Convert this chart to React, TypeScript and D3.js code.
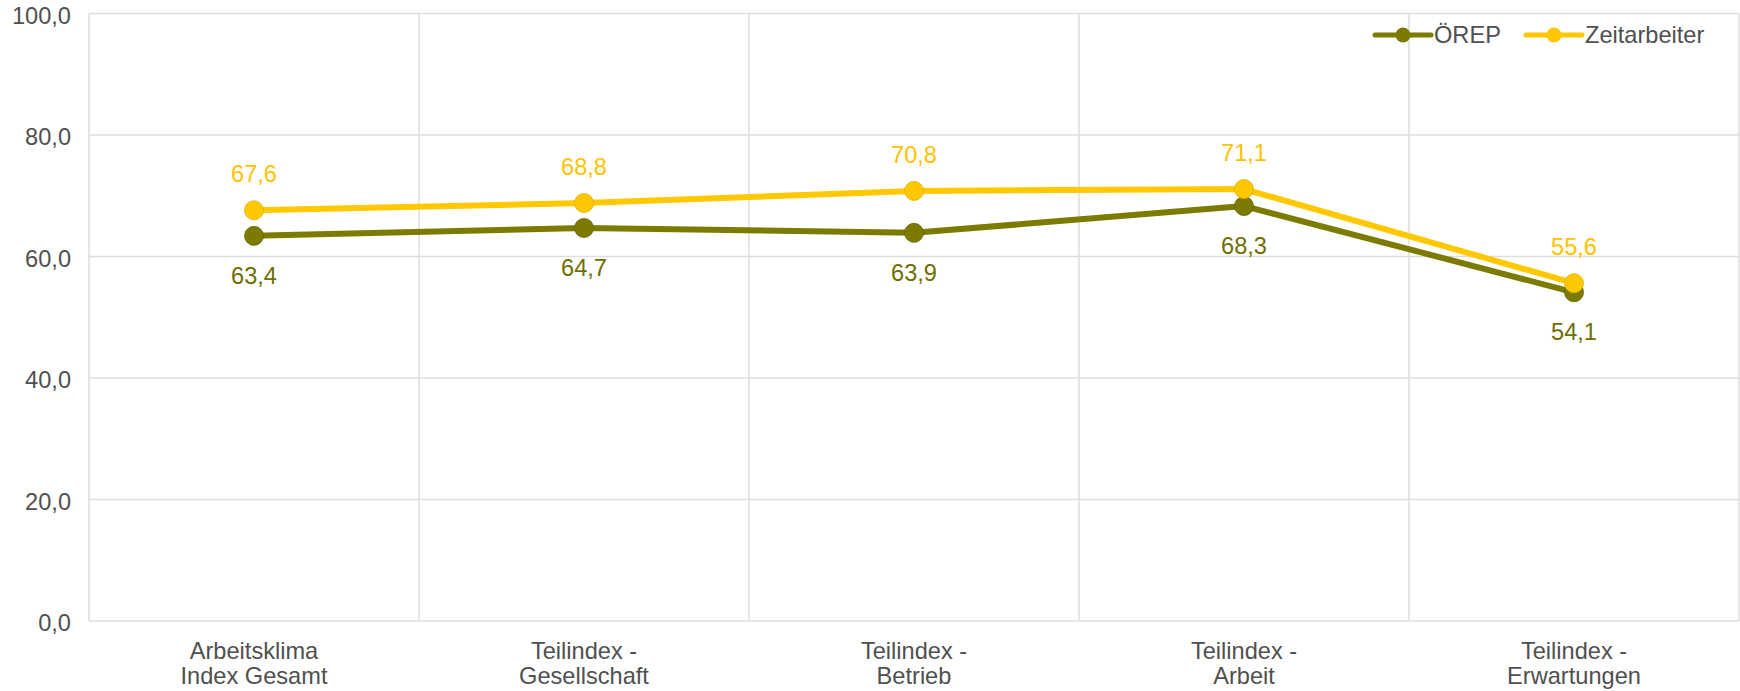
import * as d3 from "d3";

const categories: string[][] = [
  ["Arbeitsklima", "Index Gesamt"],
  ["Teilindex -", "Gesellschaft"],
  ["Teilindex -", "Betrieb"],
  ["Teilindex -", "Arbeit"],
  ["Teilindex -", "Erwartungen"],
];
const orepValues = [63.4, 64.7, 63.9, 68.3, 54.1];
const zeitValues = [67.6, 68.8, 70.8, 71.1, 55.6];
const yTicks = [0, 20, 40, 60, 80, 100];

const W = 1740;
const H = 691;
const FONT = "'Liberation Sans', Arial, Helvetica, sans-serif";
const FS = 23.6;
const GRID = "#dedede";
const TEXT = "#505050";

const series = [
  { name: "ÖREP", values: orepValues, color: "#7b7b00", labelColor: "#6e6e00", stroke: "#666600", labelPos: "below" },
  { name: "Zeitarbeiter", values: zeitValues, color: "#ffc800", labelColor: "#ffc200", stroke: "#e0b000", labelPos: "above" },
];

const fmt = (v: number) => v.toFixed(1).replace(".", ",");

export default function App() {
  const margin = { left: 89, right: 1, top: 13.5, bottom: 70 };
  const x = d3
    .scaleBand<number>()
    .domain(categories.map((_, i) => i))
    .range([margin.left, W - margin.right]);
  const y = d3
    .scaleLinear()
    .domain([0, 100])
    .range([H - margin.bottom, margin.top]);
  const cx = (i: number) => (x(i) ?? 0) + x.bandwidth() / 2;

  const line = d3
    .line<number>()
    .x((_, i) => cx(i))
    .y((d) => y(d));

  return (
    <svg
      width={W}
      height={H}
      style={{ position: "absolute", left: 0, top: 0, background: "#fff" }}
      fontFamily={FONT}
    >
      {/* horizontal grid + y labels */}
      {yTicks.map((t) => (
        <g key={t}>
          <line x1={margin.left} x2={W - margin.right} y1={y(t)} y2={y(t)} stroke={GRID} strokeWidth={1.5} />
          <text x={71} y={y(t) + 10} textAnchor="end" fontSize={FS} fill={TEXT}>
            {fmt(t)}
          </text>
        </g>
      ))}

      {/* vertical band lines */}
      {categories.map((_, i) => (
        <line key={i} x1={x(i)} x2={x(i)} y1={y(100)} y2={y(0)} stroke={GRID} strokeWidth={1.5} />
      ))}
      <line x1={W - margin.right} x2={W - margin.right} y1={y(100)} y2={y(0)} stroke={GRID} strokeWidth={1.5} />

      {/* category labels */}
      {categories.map((lines, i) => (
        <text key={i} x={cx(i)} y={659} textAnchor="middle" fontSize={FS} fill={TEXT}>
          {lines.map((l, j) => (
            <tspan key={j} x={cx(i)} dy={j === 0 ? 0 : 25}>
              {l}
            </tspan>
          ))}
        </text>
      ))}

      {/* series */}
      {series.map((s) => (
        <g key={s.name}>
          <path d={line(s.values) ?? ""} fill="none" stroke={s.color} strokeWidth={6} strokeLinejoin="round" />
          {s.values.map((v, i) => (
            <circle key={i} cx={cx(i)} cy={y(v)} r={9.5} fill={s.color} stroke={s.stroke} strokeWidth={0.8} />
          ))}
          {s.values.map((v, i) => (
            <text
              key={"l" + i}
              x={cx(i)}
              y={s.labelPos === "above" ? y(v) - 28 : y(v) + 48}
              textAnchor="middle"
              fontSize={FS}
              fill={s.labelColor}
            >
              {fmt(v)}
            </text>
          ))}
        </g>
      ))}

      {/* legend */}
      {series.map((s, i) => {
        const x0 = i === 0 ? 1375 : 1526;
        return (
          <g key={s.name}>
            <line x1={x0} x2={x0 + 56} y1={35} y2={35} stroke={s.color} strokeWidth={5} strokeLinecap="round" />
            <circle cx={x0 + 28} cy={35} r={7.5} fill={s.color} />
            <text x={x0 + 59} y={43} fontSize={FS} fill={TEXT}>
              {s.name}
            </text>
          </g>
        );
      })}
    </svg>
  );
}
